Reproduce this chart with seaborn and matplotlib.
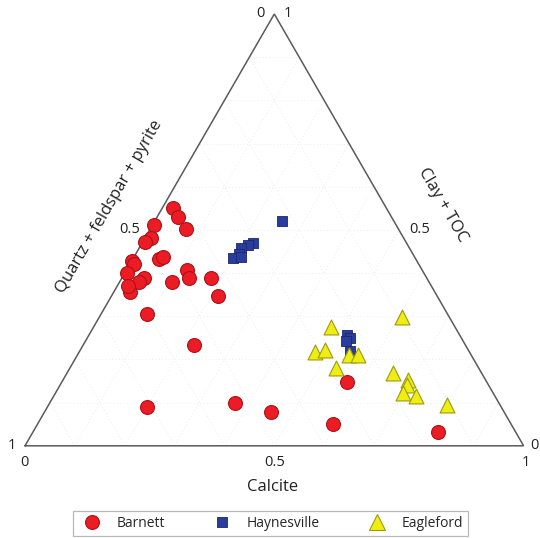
import numpy as np
import pandas as pd
import matplotlib
matplotlib.use("Agg")
import matplotlib.pyplot as plt
from matplotlib.lines import Line2D
import seaborn as sns

# Mineral compositions (fractions): calcite and clay+TOC; quartz+feldspar+pyrite is the remainder
barnett_calcite = [0.022, 0.042, 0.072, 0.004, 0.012, 0.004, 0.000, 0.008, 0.053, 0.058,
                   0.004, 0.045, 0.040, 0.032, 0.022, 0.106, 0.122, 0.134, 0.180, 0.214,
                   0.092, 0.222, 0.200, 0.372, 0.454, 0.572, 0.593, 0.811]
barnett_clay = [0.550, 0.531, 0.502, 0.511, 0.481, 0.473, 0.429, 0.422, 0.433, 0.438,
                0.400, 0.389, 0.379, 0.357, 0.370, 0.379, 0.407, 0.388, 0.388, 0.348,
                0.305, 0.233, 0.089, 0.098, 0.078, 0.147, 0.050, 0.033]

haynesville_calcite = [0.254, 0.223, 0.214, 0.205, 0.207, 0.200, 0.215, 0.517, 0.526, 0.522, 0.542]
haynesville_clay = [0.521, 0.469, 0.465, 0.458, 0.444, 0.435, 0.437, 0.257, 0.250, 0.243, 0.220]

eagleford_calcite = [0.606, 0.476, 0.473, 0.491, 0.544, 0.563, 0.534, 0.655, 0.692, 0.697,
                     0.698, 0.727, 0.799]
eagleford_clay = [0.299, 0.275, 0.218, 0.221, 0.210, 0.211, 0.181, 0.168, 0.153, 0.140,
                  0.122, 0.115, 0.095]

formations = ["Barnett", "Haynesville", "Eagleford"]
tick_labels = ["0", "0.5", "1"]

H = np.sqrt(3) / 2


def to_xy(calcite, clay):
    calcite = np.asarray(calcite, dtype=float)
    clay = np.asarray(clay, dtype=float)
    return calcite + clay / 2, clay * H


frames = []
for name, cal, cl in zip(formations,
                         [barnett_calcite, haynesville_calcite, eagleford_calcite],
                         [barnett_clay, haynesville_clay, eagleford_clay]):
    x, y = to_xy(cal, cl)
    frames.append(pd.DataFrame({"x": x, "y": y, "formation": name}))
df = pd.concat(frames, ignore_index=True)

sns.set_theme(style="white")
plt.rcParams["font.family"] = ["Open Sans", "DejaVu Sans"]

W, Hpx = 540, 538
fig = plt.figure(figsize=(W / 100, Hpx / 100), dpi=100)
left_px, base_px, side_px = 25.0, 445.8, 498.6
ax = fig.add_axes([left_px / W, (Hpx - base_px) / Hpx, side_px / W, side_px * H / Hpx])
ax.set_xlim(0, 1)
ax.set_ylim(0, H)
ax.set_axis_off()

# faint ternary grid
grid_kw = dict(color="#e8e8e8", lw=0.6, ls=(0, (1, 3)), zorder=0)
for k in np.arange(1, 10) / 10:
    ax.plot([k / 2, 1 - k / 2], [k * H, k * H], **grid_kw)            # constant clay
    ax.plot([k, k + (1 - k) / 2], [0, (1 - k) * H], **grid_kw)        # constant calcite
    ax.plot([1 - k, (1 - k) / 2], [0, (1 - k) * H], **grid_kw)        # constant quartz

# triangle frame
ax.plot([0, 1, 0.5, 0], [0, 0, H, 0], color="#5a5a5a", lw=1.1, zorder=1,
        solid_joinstyle="miter", clip_on=False)

styles = {
    "Barnett": dict(marker="o", s=100, color="#ec1c24", edgecolor="#b01018", linewidth=0.8),
    "Haynesville": dict(marker="s", s=58, color="#2a3c9c", edgecolor="#1c2670", linewidth=0.6),
    "Eagleford": dict(marker="^", s=115, color="#f0ee10", edgecolor="#9c9a10", linewidth=0.8),
}
for i, name in enumerate(formations):
    sub = df[df["formation"] == name]
    sns.scatterplot(data=sub, x="x", y="y", ax=ax, legend=False, clip_on=False,
                    zorder=3 + i, **styles[name])

txt = dict(fontsize=10.5, color="#222222", ha="center", va="center")
vals = [0.0, 0.5, 1.0]
# calcite ticks along the base
for v, lab, dx in zip(vals, tick_labels, [-1, 0, 2]):
    ax.annotate(lab, (v, 0), xytext=(dx, -17), textcoords="offset pixels", **txt)
# quartz+feldspar+pyrite ticks along the left edge (1 at bottom-left)
for v, lab, dx in zip(vals, tick_labels, [-14, -20, -13]):
    x, y = to_xy(0.0, 1 - v)
    ax.annotate(lab, (x, y), xytext=(dx, 0), textcoords="offset pixels", **txt)
# clay+TOC ticks along the right edge (1 at the apex)
for v, lab, dx in zip(vals, tick_labels, [11, 21, 14]):
    x, y = to_xy(1 - v, v)
    ax.annotate(lab, (x, y), xytext=(dx, 0), textcoords="offset pixels", **txt)

title_kw = dict(fontsize=12, color="#222222", ha="center", va="center")
ax.annotate("Calcite", (0.5, 0), xytext=(-2, -41), textcoords="offset pixels", **title_kw)
lx, ly = to_xy(0.0, 0.5)
ax.annotate("Quartz + feldspar + pyrite", (lx, ly),
            xytext=(-47 * 0.866, 47 * 0.5), textcoords="offset pixels",
            rotation=60, rotation_mode="anchor", **title_kw)
rx, ry = to_xy(0.5, 0.5)
ax.annotate("Clay + TOC", (rx, ry),
            xytext=(50 * 0.866, 50 * 0.5), textcoords="offset pixels",
            rotation=-60, rotation_mode="anchor", **title_kw)

handles = [
    Line2D([], [], ls="none", marker="o", markersize=10, markerfacecolor="#ec1c24",
           markeredgecolor="#b01018", markeredgewidth=0.8),
    Line2D([], [], ls="none", marker="s", markersize=7.5, markerfacecolor="#2a3c9c",
           markeredgecolor="#1c2670", markeredgewidth=0.6),
    Line2D([], [], ls="none", marker="^", markersize=11, markerfacecolor="#f0ee10",
           markeredgecolor="#9c9a10", markeredgewidth=0.8),
]
leg = fig.legend(handles, formations, ncol=3, loc="lower left",
                 bbox_to_anchor=(73 / W, (Hpx - 536) / Hpx, 395 / W, 23 / Hpx),
                 mode="expand", frameon=True, fancybox=False, fontsize=10,
                 handletextpad=0.8, borderpad=0.35, borderaxespad=0,
                 handlelength=2.0)
leg.get_frame().set_edgecolor("#a8a8a8")
leg.get_frame().set_linewidth(0.9)

fig.savefig("out.png", dpi=100, facecolor="white")
